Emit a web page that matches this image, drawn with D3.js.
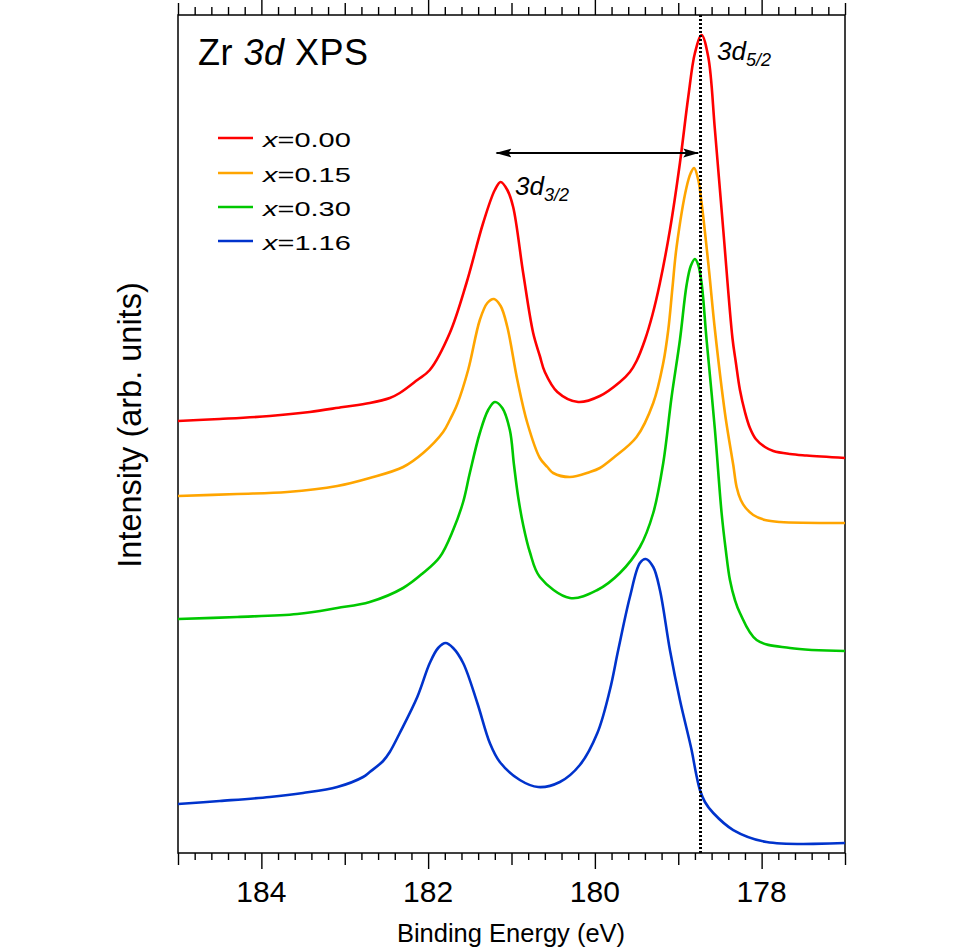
<!DOCTYPE html>
<html><head><meta charset="utf-8">
<script src="https://cdn.jsdelivr.net/npm/d3@7"></script>
<style>body{margin:0;background:#fff;} svg{display:block;}</style>
</head><body><svg id="c" width="960" height="948"></svg>
<script>
// ---- data (binding energy in eV, intensity in arbitrary units) ----
const seriesNames = ["x=0.00", "x=0.15", "x=0.30", "x=1.16"];
const seriesValues = ["0.00", "0.15", "0.30", "1.16"];
const seriesColors = ["#ff0000", "#ffa500", "#00c800", "#0033cc"];

const energy_000 = [185.00,184.50,183.90,183.42,183.02,182.70,182.46,182.34,182.13,181.98,181.74,181.54,181.34,181.20,181.13,181.05,180.98,180.86,180.74,180.66,180.60,180.45,180.20,179.94,179.70,179.58,179.50,179.40,179.31,179.22,179.10,178.98,178.88,178.80,178.72,178.64,178.56,178.46,178.35,178.31,178.26,178.20,178.14,178.07,177.96,177.86,177.66,177.46,177.00];
const intens_000 = [432,434,437,441,446,450,455,460,473,483,520,570,630,663,671,663,646,580,520,497,481,461,451,457,471,481,492,513,538,570,623,690,756,800,818,796,723,623,515,491,463,441,425,414,406,402,399,397.5,395];

const energy_015 = [185.00,184.29,183.69,183.09,182.70,182.30,182.06,181.82,181.74,181.65,181.52,181.38,181.29,181.21,181.13,181.05,180.93,180.81,180.66,180.57,180.50,180.30,180.06,179.94,179.78,179.50,179.30,179.18,179.12,179.07,179.02,178.90,178.85,178.81,178.76,178.72,178.64,178.56,178.44,178.39,178.34,178.30,178.25,178.19,178.10,177.96,177.78,177.00];
const intens_015 = [357,359,361,367,375,386,400,421,433,449,483,533,550,554,547,526,473,430,395,386,380,376,381,385,395,416,450,490,523,565,606,666,680,685,673,650,590,523,440,413,388,366,353,345,338,333,331,330];

const energy_030 = [185.00,184.29,183.57,183.09,182.70,182.30,182.06,181.86,181.70,181.58,181.50,181.38,181.28,181.20,181.11,181.02,180.97,180.92,180.86,180.78,180.66,180.30,179.97,179.70,179.46,179.30,179.18,179.08,178.98,178.90,178.85,178.80,178.76,178.72,178.66,178.56,178.48,178.43,178.38,178.32,178.26,178.06,177.66,177.00];
const intens_030 = [234,236,239,245,251,265,280,296,323,351,380,420,443,451,445,423,388,356,328,301,276,255,263,280,306,340,390,456,513,568,587,594,588,570,513,423,340,303,273,253,240,213,205,202];

const energy_116 = [185.00,184.50,183.90,183.50,183.09,182.78,182.70,182.54,182.46,182.34,182.13,181.98,181.88,181.79,181.70,181.58,181.41,181.26,181.14,180.90,180.68,180.42,180.18,179.97,179.82,179.72,179.58,179.46,179.39,179.30,179.22,179.10,178.98,178.84,178.79,178.74,178.68,178.58,178.34,177.94,177.00];
const intens_116 = [49,52,56,60,66,76,81,92,101,120,156,190,205,210,205,190,150,110,91,73,66,71,88,120,163,203,256,290,294,286,263,203,153,103,81,63,51,40,23,11,10];

const xTickLabels = [184, 182, 180, 178];
const peak52Energy = 178.73;      // dotted reference line
const arrowFrom = 181.18, arrowTo = 178.76, arrowLevel = 700;

// ---- layout ----
const svg = d3.select("#c");
const L = 178, R = 845, T = 15, B = 853;
const x = d3.scaleLinear().domain([185, 177]).range([L, R]);
const y = d3.scaleLinear().domain([0, 838]).range([B, T]);
const FONT = "Helvetica, Arial, 'Liberation Sans', sans-serif";

svg.append("rect").attr("width", 960).attr("height", 948).attr("fill", "#fff");

// ---- ticks ----
const allT = d3.range(0, 41).map(i => +(177 + i * 0.2).toFixed(1));
const majorT = allT.filter(v => Number.isInteger(v) && v % 2 === 0);
const medT = allT.filter(v => Number.isInteger(v) && v % 2 !== 0);
const minorT = allT.filter(v => !Number.isInteger(v));

function drawAxis(gen, ty, vals, size) {
  const g = svg.append("g").attr("transform", `translate(0,${ty})`)
    .call(gen(x).tickValues(vals).tickSize(size).tickFormat(""));
  g.select(".domain").remove();
  g.selectAll("line").attr("stroke", "#000").attr("stroke-width", 1.4);
}
drawAxis(d3.axisBottom, B, minorT, 7);
drawAxis(d3.axisBottom, B, medT, 12);
drawAxis(d3.axisBottom, B, majorT, 16);
drawAxis(d3.axisTop, T, minorT, 8);
drawAxis(d3.axisTop, T, medT, 12);
drawAxis(d3.axisTop, T, majorT, 15);

svg.append("rect").attr("x", L).attr("y", T).attr("width", R - L).attr("height", B - T)
  .attr("fill", "none").attr("stroke", "#000").attr("stroke-width", 1.5);

svg.selectAll("text.tl").data(xTickLabels).join("text").attr("class", "tl")
  .attr("x", d => x(d)).attr("y", 902).attr("text-anchor", "middle")
  .attr("font-family", FONT).attr("font-size", 30).attr("fill", "#000").text(d => d);

svg.append("text").attr("x", 511).attr("y", 942).attr("text-anchor", "middle")
  .attr("font-family", FONT).attr("font-size", 25.5).text("Binding Energy (eV)");

svg.append("text").attr("transform", "translate(141,425) rotate(-90)").attr("text-anchor", "middle")
  .attr("font-family", FONT).attr("font-size", 32.5).text("Intensity (arb. units)");

// ---- curves ----
const data = [
  [energy_000, intens_000], [energy_015, intens_015],
  [energy_030, intens_030], [energy_116, intens_116]
];
const line = d3.line().x(d => x(d[0])).y(d => y(d[1])).curve(d3.curveCatmullRom.alpha(0.5));
data.forEach((s, k) => {
  const pts = s[0].map((e, i) => [e, s[1][i]]);
  svg.append("path").datum(pts).attr("d", line).attr("fill", "none")
    .attr("stroke", seriesColors[k]).attr("stroke-width", 2.6).attr("stroke-linejoin", "round");
});

// dotted line
svg.append("line").attr("x1", x(peak52Energy)).attr("x2", x(peak52Energy)).attr("y1", T).attr("y2", B)
  .attr("stroke", "#000").attr("stroke-width", 3).attr("stroke-dasharray", "2,2")
  .attr("shape-rendering", "crispEdges");

// arrow
const defs = svg.append("defs");
defs.append("marker").attr("id", "ah").attr("viewBox", "0 0 16 10").attr("refX", 15).attr("refY", 5)
  .attr("markerWidth", 16).attr("markerHeight", 10).attr("markerUnits", "userSpaceOnUse")
  .attr("orient", "auto-start-reverse")
  .append("path").attr("d", "M0,0.5 L16,5 L0,9.5 L3,5 Z").attr("fill", "#000");
svg.append("line").attr("x1", x(arrowFrom)).attr("x2", x(arrowTo)).attr("y1", y(arrowLevel)).attr("y2", y(arrowLevel))
  .attr("stroke", "#000").attr("stroke-width", 2)
  .attr("marker-start", "url(#ah)").attr("marker-end", "url(#ah)");

// peak labels
function peakLabel(px, py, sub) {
  const t = svg.append("text").attr("x", px).attr("y", py).attr("font-family", FONT).attr("font-style", "italic");
  t.append("tspan").attr("font-size", 26).text("3d");
  t.append("tspan").attr("font-size", 18).attr("dy", 6).text(sub);
}
peakLabel(515, 195, "3/2");
peakLabel(717, 60, "5/2");

// title
const title = svg.append("text").attr("x", 198).attr("y", 65).attr("font-family", FONT)
  .attr("font-size", 36).attr("letter-spacing", 0.5);
title.append("tspan").text("Zr ");
title.append("tspan").attr("font-style", "italic").text("3d");
title.append("tspan").text(" XPS");

// legend
const legY = [138, 173, 207, 241];
seriesNames.forEach((n, k) => {
  svg.append("line").attr("x1", 218).attr("x2", 253).attr("y1", legY[k]).attr("y2", legY[k])
    .attr("stroke", seriesColors[k]).attr("stroke-width", 2.6);
  const t = svg.append("text").attr("transform", `translate(263,${legY[k] + 9}) scale(1.45,1)`)
    .attr("font-family", FONT).attr("font-size", 20);
  t.append("tspan").attr("font-style", "italic").text("x");
  t.append("tspan").text("=" + seriesValues[k]);
});
</script></body></html>
